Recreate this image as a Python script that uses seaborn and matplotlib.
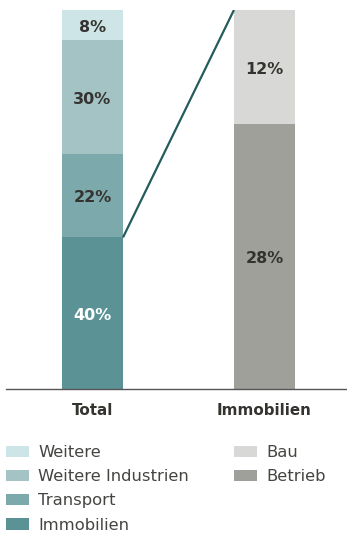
import matplotlib
matplotlib.use("Agg")
import matplotlib.pyplot as plt
import matplotlib.patches as mpatches
import seaborn as sns
import pandas as pd

# ---- data ----
categories = ["Total", "Immobilien"]
total_segments = ["Immobilien", "Transport", "Weitere Industrien", "Weitere"]
total_values = [40, 22, 30, 8]
immo_segments = ["Betrieb", "Bau"]
immo_values = [28, 12]

total_colors = ["#5b9295", "#7ca9ac", "#a3c3c5", "#cde5e7"]
immo_colors = ["#a0a09b", "#d8d8d6"]
text_dark = "#35332f"

sns.set_theme(style="white")
plt.rcParams["font.family"] = ["DejaVu Sans"]

fig = plt.figure(figsize=(3.47, 5.33), dpi=100)
ax = fig.add_axes([6 / 347, 144 / 533, 341 / 347, 379 / 533])

bar_w = 0.355

def draw_stack(cat, segs, vals, cols, scale, label_colors):
    bottom = 0.0
    for seg, v, c, lc in zip(segs, vals, cols, label_colors):
        h = v * scale
        df = pd.DataFrame({"cat": [cat], "val": [h]})
        sns.barplot(data=df, x="cat", y="val", order=categories, color=c,
                    width=bar_w, bottom=bottom, ax=ax, saturation=1,
                    edgecolor="none", linewidth=0, errorbar=None)
        xpos = categories.index(cat)
        ax.text(xpos, bottom + h / 2 - 0.6, f"{v}%", ha="center", va="center",
                fontsize=11.5, fontweight="bold", color=lc)
        bottom += h

draw_stack("Total", total_segments, total_values, total_colors, 1.0,
           ["white", text_dark, text_dark, text_dark])
immo_scale = 100.0 / sum(immo_values)
draw_stack("Immobilien", immo_segments, immo_values, immo_colors, immo_scale,
           [text_dark, text_dark])

# connector line from top of Immobilien segment to top of right bar
ax.plot([0 + bar_w / 2, 1 - bar_w / 2], [total_values[0], 100],
        color="#245c5b", linewidth=1.6, solid_capstyle="butt")

ax.set_xlim(-0.503, 1.48)
ax.set_ylim(0, 100)
ax.set_xlabel("")
ax.set_ylabel("")
ax.set_yticks([])
ax.tick_params(axis="x", length=0, pad=10)
for lbl in ax.get_xticklabels():
    lbl.set_fontweight("bold")
    lbl.set_fontsize(10.9)
    lbl.set_color(text_dark)
for s in ["top", "right", "left"]:
    ax.spines[s].set_visible(False)
ax.spines["bottom"].set_color("#555555")
ax.spines["bottom"].set_linewidth(1.0)

# legends
left_labels = ["Weitere", "Weitere Industrien", "Transport", "Immobilien"]
left_cols = ["#cde5e7", "#a3c3c5", "#7ca9ac", "#5b9295"]
right_labels = ["Bau", "Betrieb"]
right_cols = ["#d8d8d6", "#a0a09b"]

leg_kw = dict(frameon=False, fontsize=11.8, handlelength=1.4, handleheight=0.7,
              handletextpad=0.55, labelspacing=0.56, borderpad=0,
              borderaxespad=0, labelcolor="#444440")
h1 = [mpatches.Patch(color=c, linewidth=0) for c in left_cols]
leg1 = fig.legend(h1, left_labels, loc="upper left",
                  bbox_to_anchor=(6 / 347, 1 - 445 / 533), **leg_kw)
h2 = [mpatches.Patch(color=c, linewidth=0) for c in right_cols]
leg2 = fig.legend(h2, right_labels, loc="upper left",
                  bbox_to_anchor=(234 / 347, 1 - 445 / 533), **leg_kw)

fig.savefig("out.png", dpi=100)
